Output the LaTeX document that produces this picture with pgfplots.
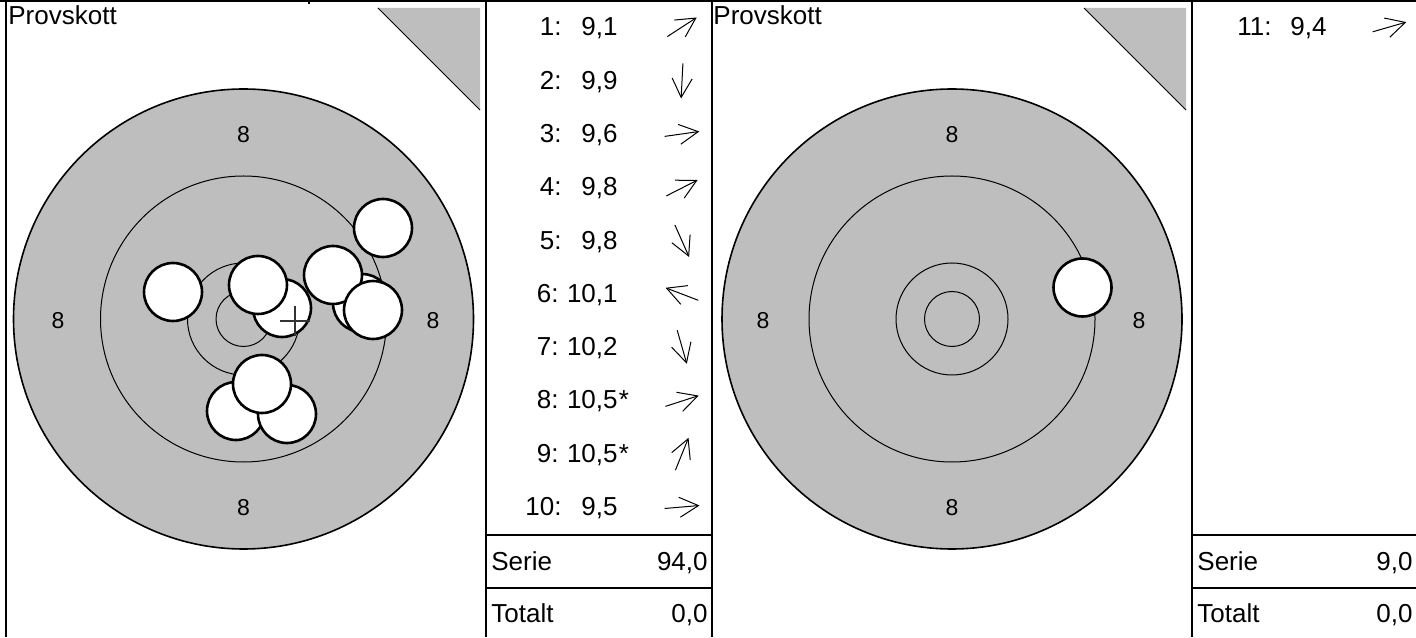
\documentclass[border=0pt]{standalone}
\usepackage{pgfplots}
\pgfplotsset{compat=1.18}
\usepackage{fontspec}
\setmainfont{Liberation Sans}
\usetikzlibrary{arrows.meta}
\definecolor{tgray}{RGB}{190,190,190}
\definecolor{crossgray}{RGB}{51,51,51}
\newcommand\lf{\fontsize{13}{15}\selectfont}
\newcommand\smf{\fontsize{11.5}{13}\selectfont}

\pgfplotstableread{
x y
383 228
236 411
362 303
333 275
287 414
173 292
262 384
282 308
258 285
373 310
}\shotsA
\pgfplotstableread{
x y
1082.5 287.5
}\shotsB
\pgfplotstableread{
x y u v
667.3 36.6 29.4 -19.1
682.9 63.5 -1.8 35.0
664.6 136.4 34.7 -4.9
666.4 195.9 31.2 -15.9
674.9 225.0 14.2 32.0
698.3 300.3 -32.7 -12.5
677.2 330.2 9.6 33.6
665.4 406.4 33.3 -10.8
675.4 470.2 13.1 -32.4
664.6 508.5 34.9 -3.0
1372.7 31.8 33.6 -9.7
}\arrowsT

\begin{document}
\begin{tikzpicture}
\begin{axis}[width=708pt,height=318.5pt,scale only axis,set layers,
  xmin=0,xmax=1416,ymin=0,ymax=637,y dir=reverse,hide axis,clip=false]
% corner triangles
\addplot[fill=tgray,draw=none] coordinates {(378,8) (480,8) (480,110)} -- cycle;
\addplot[black,line width=0.5pt] coordinates {(378,8) (480,110)};
\addplot[fill=tgray,draw=none] coordinates {(1084,8) (1186,8) (1186,110)} -- cycle;
\addplot[black,line width=0.5pt] coordinates {(1084,8) (1186,110)};
% targets
\addplot[only marks,mark=*,mark size=115pt,mark options={fill=tgray,draw=black,line width=0.8pt}] coordinates {(243.5,319) (952,319)};
\addplot[only marks,mark=o,mark size=71.5pt,mark options={draw=black,line width=0.5pt}] coordinates {(243.5,319) (952,319)};
\addplot[only marks,mark=o,mark size=28pt,mark options={draw=black,line width=0.5pt}] coordinates {(243.5,319) (952,319)};
\addplot[only marks,mark=o,mark size=13.75pt,mark options={draw=black,line width=0.5pt}] coordinates {(243.5,319) (952,319)};
% shots
\addplot[only marks,mark=*,mark size=14.5pt,mark options={fill=white,draw=black,line width=1.3pt}] table {\shotsA};
\addplot[only marks,mark=*,mark size=14.5pt,mark options={fill=white,draw=black,line width=1.3pt}] table {\shotsB};
% mean point of impact
\addplot[only marks,mark=+,mark size=7.5pt,mark options={draw=crossgray,line width=0.8pt}] coordinates {(295,321)};
% direction arrows
\addplot[quiver={u=\thisrow{u},v=\thisrow{v}},black,line width=0.5pt,-{Straight Barb[length=9.5pt,width=10pt]}] table {\arrowsT};
\begin{pgfonlayer}{axis foreground}
% ring labels
\node[font=\smf] at (axis cs:58,320.5) {8};
\node[font=\smf] at (axis cs:433,320.5) {8};
\node[font=\smf] at (axis cs:243.5,135) {8};
\node[font=\smf] at (axis cs:243.5,508) {8};
\node[font=\smf] at (axis cs:763,320.5) {8};
\node[font=\smf] at (axis cs:1139,320.5) {8};
\node[font=\smf] at (axis cs:952,135) {8};
\node[font=\smf] at (axis cs:952,508) {8};
% panel lines
\draw[line width=1pt] (axis cs:0,1) -- (axis cs:1416,1);
\draw[line width=1pt] (axis cs:6,0) -- (axis cs:6,637);
\draw[line width=0.6pt] (axis cs:309,0) -- (axis cs:309,4);
\draw[line width=0.7pt] (axis cs:486,0) -- (axis cs:486,637);
\draw[line width=0.7pt] (axis cs:712,0) -- (axis cs:712,637);
\draw[line width=0.7pt] (axis cs:1192,0) -- (axis cs:1192,637);
\draw[line width=0.7pt] (axis cs:486,535) -- (axis cs:712,535);
\draw[line width=0.7pt] (axis cs:486,588) -- (axis cs:712,588);
\draw[line width=0.7pt] (axis cs:1192,535) -- (axis cs:1416,535);
\draw[line width=0.7pt] (axis cs:1192,588) -- (axis cs:1416,588);
% titles
\node[anchor=base west,font=\lf,inner sep=0pt] at (axis cs:8,25) {Provskott};
\node[anchor=base west,font=\lf,inner sep=0pt] at (axis cs:713,25) {Provskott};
% shot list left
\node[anchor=base east,font=\lf,inner sep=0pt] at (axis cs:562,36) {1:};
\node[anchor=base east,font=\lf,inner sep=0pt] at (axis cs:618,36) {9,1};
\node[anchor=base east,font=\lf,inner sep=0pt] at (axis cs:562,89.5) {2:};
\node[anchor=base east,font=\lf,inner sep=0pt] at (axis cs:618,89.5) {9,9};
\node[anchor=base east,font=\lf,inner sep=0pt] at (axis cs:562,142.5) {3:};
\node[anchor=base east,font=\lf,inner sep=0pt] at (axis cs:618,142.5) {9,6};
\node[anchor=base east,font=\lf,inner sep=0pt] at (axis cs:562,196) {4:};
\node[anchor=base east,font=\lf,inner sep=0pt] at (axis cs:618,196) {9,8};
\node[anchor=base east,font=\lf,inner sep=0pt] at (axis cs:562,249.5) {5:};
\node[anchor=base east,font=\lf,inner sep=0pt] at (axis cs:618,249.5) {9,8};
\node[anchor=base east,font=\lf,inner sep=0pt] at (axis cs:559,302.5) {6:};
\node[anchor=base east,font=\lf,inner sep=0pt] at (axis cs:618,302.5) {10,1};
\node[anchor=base east,font=\lf,inner sep=0pt] at (axis cs:559,355.5) {7:};
\node[anchor=base east,font=\lf,inner sep=0pt] at (axis cs:618,355.5) {10,2};
\node[anchor=base east,font=\lf,inner sep=0pt] at (axis cs:559,409) {8:};
\node[anchor=base east,font=\lf,inner sep=0pt] at (axis cs:618,409) {10,5};
\node[anchor=base west,font=\lf,inner sep=0pt] at (axis cs:618.5,409) {*};
\node[anchor=base east,font=\lf,inner sep=0pt] at (axis cs:559,462.5) {9:};
\node[anchor=base east,font=\lf,inner sep=0pt] at (axis cs:618,462.5) {10,5};
\node[anchor=base west,font=\lf,inner sep=0pt] at (axis cs:618.5,462.5) {*};
\node[anchor=base east,font=\lf,inner sep=0pt] at (axis cs:562,515.5) {10:};
\node[anchor=base east,font=\lf,inner sep=0pt] at (axis cs:618,515.5) {9,5};
\node[anchor=base west,font=\lf,inner sep=0pt] at (axis cs:491,570) {Serie};
\node[anchor=base east,font=\lf,inner sep=0pt] at (axis cs:708,570) {94,0};
\node[anchor=base west,font=\lf,inner sep=0pt] at (axis cs:491,622) {Totalt};
\node[anchor=base east,font=\lf,inner sep=0pt] at (axis cs:708,622) {0,0};
% shot list right
\node[anchor=base east,font=\lf,inner sep=0pt] at (axis cs:1272,36) {11:};
\node[anchor=base east,font=\lf,inner sep=0pt] at (axis cs:1327,36) {9,4};
\node[anchor=base west,font=\lf,inner sep=0pt] at (axis cs:1197,570) {Serie};
\node[anchor=base east,font=\lf,inner sep=0pt] at (axis cs:1413,570) {9,0};
\node[anchor=base west,font=\lf,inner sep=0pt] at (axis cs:1197,622) {Totalt};
\node[anchor=base east,font=\lf,inner sep=0pt] at (axis cs:1413,622) {0,0};
\end{pgfonlayer}
\end{axis}
\pgfresetboundingbox
\path[use as bounding box] (0,0) rectangle (708pt,318.5pt);
\end{tikzpicture}
\end{document}
